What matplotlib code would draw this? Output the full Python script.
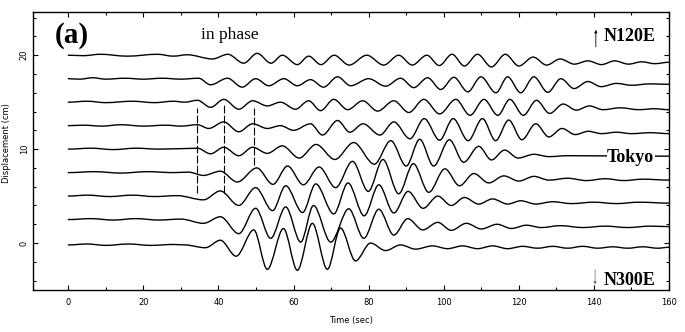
"""Seismograms along a profile (a) - N120E to N300E through Tokyo"""

import matplotlib
matplotlib.use("Agg")
import matplotlib.pyplot as plt
from matplotlib.path import Path
from matplotlib.patches import PathPatch
from matplotlib.ticker import MultipleLocator

# ── data: extrema (time s, displacement cm relative to trace offset) ──
offsets = [20, 17.5, 15, 12.5, 10, 7.5, 5, 2.5, 0]

trace_1 = [(0, 0), (4, -0.05), (8.5, 0.1), (15.7, -0.1), (23.7, 0.1), (28, -0.1), (31.7, 0.05),
           (38.4, -0.4), (42.5, 0.1), (46.7, -0.85), (50.3, 0.2), (54, -0.85), (57, 0), (61, -1.0),
           (64, -0.1), (67.3, -1.0), (70.8, 0), (74.8, -1.05), (79.5, 0), (84, -1.05), (88, 0),
           (91.6, -1.05), (95.5, 0), (98.8, -1.1), (102.2, 0.1), (105.5, -1.15), (109, 0.1),
           (112.7, -1.25), (116.4, 0.1), (120, -1.15), (123.8, -0.2), (127.4, -1.05), (131, -0.4),
           (134.8, -0.95), (138.4, -0.6), (142, -1.0), (145.5, -0.6), (149.2, -0.95), (152.7, -0.7),
           (156.2, -0.9), (160, -0.75)]
trace_2 = [(0, 0), (3, -0.05), (6.5, 0.1), (10, -0.05), (15, 0.05), (20, -0.05), (25, 0.05),
           (30, -0.05), (34.7, 0.05), (37.9, -0.65), (42.4, 0.05), (46.3, -0.9), (49.9, 0),
           (53.4, -0.75), (57.4, 0), (61, -0.75), (64.5, -0.1), (68, -0.9), (71.7, 0.2),
           (75.2, -0.75), (80, 0), (84.5, -0.8), (88.5, 0.05), (92, -0.95), (95.7, 0.1),
           (99.2, -1.15), (102.7, 0.15), (106.4, -1.4), (109.9, 0.2), (113.9, -1.5), (117, 0.2),
           (120.5, -1.5), (124, 0.2), (127.7, -1.45), (131.2, 0), (134.7, -1.05), (138.4, -0.3),
           (141.9, -0.85), (146, -0.5), (150, -0.7), (155, -0.55), (160, -0.6)]
trace_3 = [(0, 0), (5, 0.1), (10, -0.05), (17, 0.1), (23, -0.05), (28, 0.1), (31, 0), (34.4, 0.2),
           (37.9, -0.55), (41.4, 0.3), (45.4, -0.75), (49.1, 0.15), (53, -0.4), (56.5, 0),
           (60.5, -0.75), (64, 0.15), (67.2, -0.9), (70.7, 0.3), (74.4, -0.8), (78.4, 0.15),
           (82.4, -0.95), (86.7, 0.15), (90.7, -1.1), (94.7, 0.3), (98.9, -1.25), (103.2, 0.3),
           (107, -1.4), (110.7, 0.3), (114.4, -1.4), (117.6, 0.3), (121.2, -1.4), (124.7, 0.2),
           (128.2, -1.2), (131.8, -0.2), (135.3, -0.85), (138.8, -0.4), (142.4, -0.8), (147, -0.6),
           (152, -0.8), (156, -0.7), (160, -0.8)]
trace_4 = [(0, 0), (4, 0.05), (9, -0.05), (14, 0.1), (20, -0.05), (26, 0.05), (30, -0.05),
           (34.4, 0.1), (37.4, -0.3), (41.4, 0.4), (45.4, -0.65), (49.1, 0.2), (53, -0.3),
           (56.5, 0), (60, -0.5), (64.5, 0.2), (67.7, -1.0), (71.7, 0.55), (75, -0.7), (78.5, 0.2),
           (83, -1.0), (86.7, 0.4), (91, -1.4), (94.8, 0.75), (98.9, -1.55), (102.5, 0.75),
           (106.5, -1.6), (110.3, 0.75), (113.8, -1.6), (117.3, 0.6), (120.8, -1.5), (124.5, 0.2),
           (128, -1.2), (131.5, -0.3), (135, -0.95), (138.5, -0.6), (142, -0.85), (146, -0.7),
           (150, -0.85), (155, -0.75), (160, -0.85)]
trace_5 = [(0, 0), (6, 0.1), (12, -0.05), (18, 0.1), (24, 0), (30, 0.05), (34.4, 0.1), (37.9, -0.5),
           (41.4, 0.2), (45.4, -0.7), (49.1, 0.2), (53, -0.45), (57, 0.35), (61.5, -0.95),
           (66, 0.5), (71, -1.1), (76, 0.7), (81.5, -1.6), (85.9, 0.9), (90, -1.8), (93.6, 1.05),
           (97.3, -1.8), (101.5, 1.0), (105.3, -1.4), (109.3, 0.3), (112.7, -1.15), (116.2, -0.1),
           (119.8, -0.95), (124, -0.55), (128, -0.8), (133, -0.7), (160, -0.75)]
trace_6 = [(0, 0), (7, 0.1), (14, -0.05), (21, 0.1), (28, 0), (32, 0.05), (36, -0.3), (40.5, 0.15),
           (45, -1.0), (50.2, 0.5), (54.5, -1.25), (58.4, 0.7), (62.6, -1.3), (66.8, 0.6),
           (71.2, -1.6), (75.7, 1.2), (79.9, -2.0), (83.8, 1.4), (88, -2.25), (91.9, 0.95),
           (96, -2.1), (100.3, 0.4), (104.2, -1.4), (108, -0.1), (112, -1.1), (116, -0.35),
           (120, -0.9), (124, -0.4), (128, -0.8), (133, -0.6), (138, -0.85), (143, -0.65),
           (148, -0.85), (153, -0.7), (160, -0.8)]
trace_7 = [(0, 0), (5, 0.1), (11, -0.05), (17, 0.1), (23, -0.05), (29, 0.05), (36, -0.4),
           (40.5, 0.55), (45.4, -1.0), (49.9, 0.9), (54.4, -1.55), (57.9, 1.1), (62.4, -1.75),
           (65.9, 1.3), (70.7, -1.9), (74.5, 1.4), (78.8, -2.1), (82.7, 1.2), (86.7, -1.8),
           (90.5, 0.5), (94.5, -1.3), (98.4, 0), (102, -1.0), (105.5, -0.15), (109.3, -0.85),
           (113, -0.3), (117, -0.85), (120.5, -0.5), (124.5, -0.85), (129, -0.6), (134, -0.8),
           (140, -0.65), (146, -0.8), (152, -0.65), (160, -0.75)]
trace_8 = [(0, 0), (6, 0.1), (12, -0.05), (18, 0.1), (24, -0.05), (30, 0.05), (36, -0.4),
           (40.5, 0.3), (45.4, -1.5), (49.9, 1.2), (53.9, -2.0), (57.9, 1.35), (61.9, -2.4),
           (65.3, 1.5), (69.9, -2.4), (74.7, 1.15), (78.7, -2.0), (82.7, 1.1), (86.7, -1.65),
           (90.4, 0.1), (94.4, -1.1), (98.4, -0.3), (102, -1.15), (106, -0.4), (110, -1.0),
           (114.2, -0.5), (118, -0.95), (122, -0.6), (126, -0.85), (131, -0.65), (137, -0.85),
           (143, -0.7), (149, -0.85), (155, -0.7), (160, -0.75)]
trace_9 = [(0, -0.2), (5, -0.1), (10, -0.25), (16, -0.1), (22, -0.25), (28, -0.15), (31, -0.2),
           (36.5, -0.5), (40.5, 0.3), (44.7, -1.4), (49.4, 1.4), (53, -2.8), (57.3, 1.55),
           (61, -2.9), (65, 2.1), (69, -2.8), (72.5, 1.6), (76.5, -1.9), (80.5, 0), (84.5, -0.8),
           (88.5, -0.2), (92.5, -0.65), (97, -0.3), (101, -0.6), (105, -0.3), (109, -0.6),
           (113, -0.3), (117, -0.6), (121, -0.35), (125, -0.55), (129, -0.35), (133, -0.55),
           (137, -0.35), (141, -0.55), (145, -0.4), (149, -0.55), (153, -0.4), (157, -0.55),
           (160, -0.45)]
traces = [trace_1, trace_2, trace_3, trace_4, trace_5, trace_6, trace_7, trace_8, trace_9]

# "in phase" markers
dash_t = [34.3, 41.4, 49.4]
dash_top = [14.4, 14.7, 14.4]
dash_bot = [5.3, 5.3, 8.3]

SERIF = ["Liberation Serif", "DejaVu Serif"]


def trace_path(points, offset):
    """平滑曲线：极值点之间用三次贝塞尔连接（极值处切线水平）"""
    verts = [(points[0][0], points[0][1] + offset)]
    codes = [Path.MOVETO]
    for (t0, v0), (t1, v1) in zip(points[:-1], points[1:]):
        dt = t1 - t0
        verts += [(t0 + dt / 3, v0 + offset), (t1 - dt / 3, v1 + offset), (t1, v1 + offset)]
        codes += [Path.CURVE4] * 3
    return Path(verts, codes)


fig = plt.figure(figsize=(6.85, 3.32), dpi=100)
ax = fig.add_axes([0.0482, 0.1265, 0.9285, 0.8373])

for pts, off in zip(traces, offsets):
    ax.add_patch(PathPatch(trace_path(pts, off), fill=False, ec="black", lw=1.0,
                           capstyle="round", joinstyle="round"))

for t, y0, y1 in zip(dash_t, dash_bot, dash_top):
    ax.plot([t, t], [y0, y1], color="black", lw=0.8, linestyle=(0, (7, 2)))

ax.set_xlim(-9.4, 160)
ax.set_ylim(-5.0, 24.6)

# ── axes style ──
for sp in ax.spines.values():
    sp.set_linewidth(1.0)
ax.xaxis.set_major_locator(MultipleLocator(20))
ax.xaxis.set_minor_locator(MultipleLocator(10))
ax.yaxis.set_major_locator(MultipleLocator(10))
ax.yaxis.set_minor_locator(MultipleLocator(2))
ax.tick_params(which="both", direction="in", top=True, right=True, width=0.8)
ax.tick_params(which="major", length=3.5, labelsize=6, pad=6)
ax.tick_params(which="minor", length=2.5)
ax.tick_params(axis="y", which="major", pad=3)
for lab in ax.get_yticklabels():
    lab.set_rotation(90)
    lab.set_va("center")

ax.set_xlabel("Time (sec)", fontsize=6, labelpad=6)
ax.set_ylabel("Displacement (cm)", fontsize=6)
ax.yaxis.set_label_coords(-0.034, 0.53)

# ── annotations ──
ax.text(1, 22.1, "(a)", fontsize=21, fontweight="bold", family=SERIF, ha="center", va="center")
ax.text(43, 22.1, "in phase", fontsize=12.5, family=SERIF, ha="center", va="center")
ax.text(149.6, 22.0, "N120E", fontsize=13, fontweight="bold", family=SERIF,
        ha="center", va="center")
ax.text(149.6, -4.0, "N300E", fontsize=13, fontweight="bold", family=SERIF,
        ha="center", va="center")
ax.text(149.8, 9.15, "Tokyo", fontsize=13, fontweight="bold", family=SERIF,
        ha="center", va="center",
        bbox=dict(fc="white", ec="none", pad=0.3))
ax.annotate("", xy=(140.5, 23.0), xytext=(140.5, 20.6),
            arrowprops=dict(arrowstyle="-|>", lw=0.6, color="black", mutation_scale=4))
ax.annotate("", xy=(140.3, -4.7), xytext=(140.3, -2.5),
            arrowprops=dict(arrowstyle="-|>", lw=0.5, color="dimgray", mutation_scale=4))

fig.savefig("out.png", dpi=100)
